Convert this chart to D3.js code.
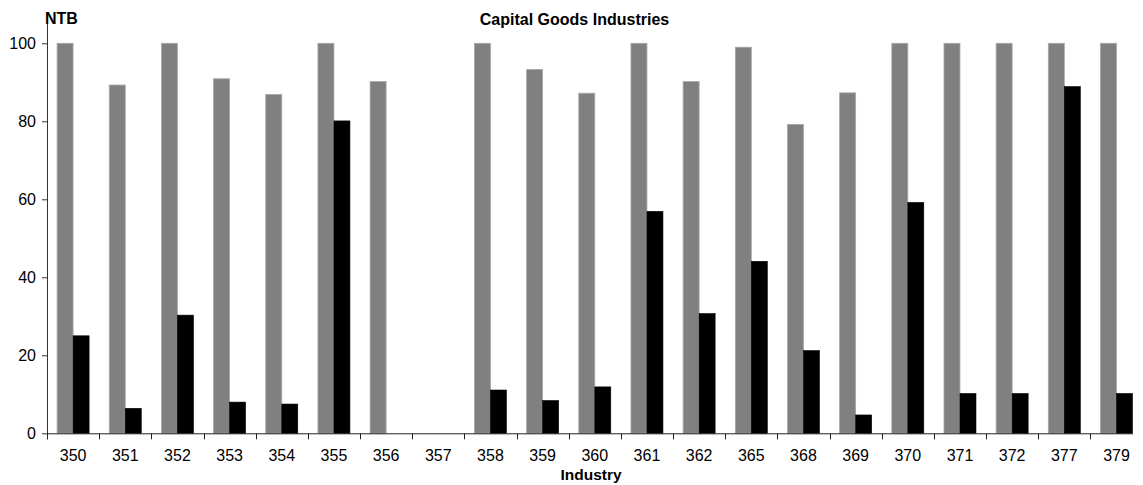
<!DOCTYPE html>
<html>
<head>
<meta charset="utf-8">
<script src="https://cdn.jsdelivr.net/npm/d3@7"></script>
<style>
  html, body { margin: 0; padding: 0; background: #fff; }
  svg { display: block; font-family: "Liberation Sans", Arial, sans-serif; }
</style>
</head>
<body>
<svg id="chart" width="1143" height="485"></svg>
<script>
const categories = ["350","351","352","353","354","355","356","357","358","359","360","361","362","365","368","369","370","371","372","377","379"];
const greyValues = [100, 89.3, 100, 90.9, 86.9, 100, 90.2, 0, 100, 93.3, 87.2, 100, 90.2, 99.0, 79.2, 87.3, 100, 100, 100, 100, 100];
const blackValues = [25.0, 6.4, 30.3, 8.0, 7.5, 80.1, 0, 0, 11.1, 8.4, 11.9, 56.9, 30.7, 44.1, 21.2, 4.7, 59.2, 10.2, 10.2, 88.9, 10.2];
const yTicks = [0, 20, 40, 60, 80, 100];
const title = "Capital Goods Industries";
const yTitle = "NTB";
const xTitle = "Industry";

const svg = d3.select("#chart");
const left = 47, bandW = 52.17, axisRight = 1133;
const x = d3.scaleBand().domain(categories).range([left, left + bandW * categories.length]).padding(0);
const y = d3.scaleLinear().domain([0, 100]).range([433.3, 43.3]);
const barW = 16;

// grey bars
svg.append("g").selectAll("rect").data(categories).join("rect")
  .attr("x", (d) => x(d) + x.bandwidth() / 2 - barW)
  .attr("width", barW)
  .attr("y", (d, i) => y(greyValues[i]))
  .attr("height", (d, i) => y(0) - y(greyValues[i]))
  .attr("fill", "#808080")
  .attr("stroke", "#a8a8a8")
  .attr("stroke-width", (d, i) => greyValues[i] > 0 ? 0.8 : 0);

// black bars
svg.append("g").selectAll("rect").data(categories).join("rect")
  .attr("x", (d) => x(d) + x.bandwidth() / 2)
  .attr("width", barW)
  .attr("y", (d, i) => y(blackValues[i]))
  .attr("height", (d, i) => y(0) - y(blackValues[i]))
  .attr("fill", "#000")
  .attr("stroke", "#000")
  .attr("stroke-width", (d, i) => blackValues[i] > 0 ? 0.6 : 0);

// y axis
const yAxis = d3.axisLeft(y).tickValues(yTicks).tickSize(5).tickSizeOuter(0).tickPadding(6);
const gy = svg.append("g").attr("transform", `translate(${left},0)`).call(yAxis);
gy.select(".domain").remove();
gy.selectAll(".tick line").attr("stroke", "#333");
gy.selectAll(".tick text").attr("font-size", 16).attr("fill", "#000").attr("font-family", "Liberation Sans, Arial, sans-serif");
svg.append("line").attr("x1", left + 0.5).attr("x2", left + 0.5).attr("y1", 22).attr("y2", y(0) + 6)
  .attr("stroke", "#333").attr("stroke-width", 1);

// x axis
const xAxis = d3.axisBottom(x).tickSize(0).tickPadding(16.3);
const gx = svg.append("g").attr("transform", `translate(0,${y(0)})`).call(xAxis);
gx.select(".domain").remove();
gx.selectAll(".tick text").attr("font-size", 16).attr("fill", "#000").attr("font-family", "Liberation Sans, Arial, sans-serif");
svg.append("line").attr("x1", left).attr("x2", axisRight).attr("y1", y(0) + 0.5).attr("y2", y(0) + 0.5)
  .attr("stroke", "#222").attr("stroke-width", 1);
svg.append("g").selectAll("line").data(categories).join("line")
  .attr("x1", (d) => Math.round(x(d)) + 0.5).attr("x2", (d) => Math.round(x(d)) + 0.5)
  .attr("y1", y(0)).attr("y2", y(0) + 6)
  .attr("stroke", "#222").attr("stroke-width", 1);

// titles
svg.append("text").attr("x", 574.5).attr("y", 25).attr("text-anchor", "middle")
  .attr("font-size", 16).attr("font-weight", "bold").text(title);
svg.append("text").attr("x", 45).attr("y", 24).attr("text-anchor", "start")
  .attr("font-size", 16).attr("font-weight", "bold").text(yTitle);
svg.append("text").attr("x", 591).attr("y", 479.5).attr("text-anchor", "middle")
  .attr("font-size", 15.5).attr("font-weight", "bold").text(xTitle);
</script>
</body>
</html>
